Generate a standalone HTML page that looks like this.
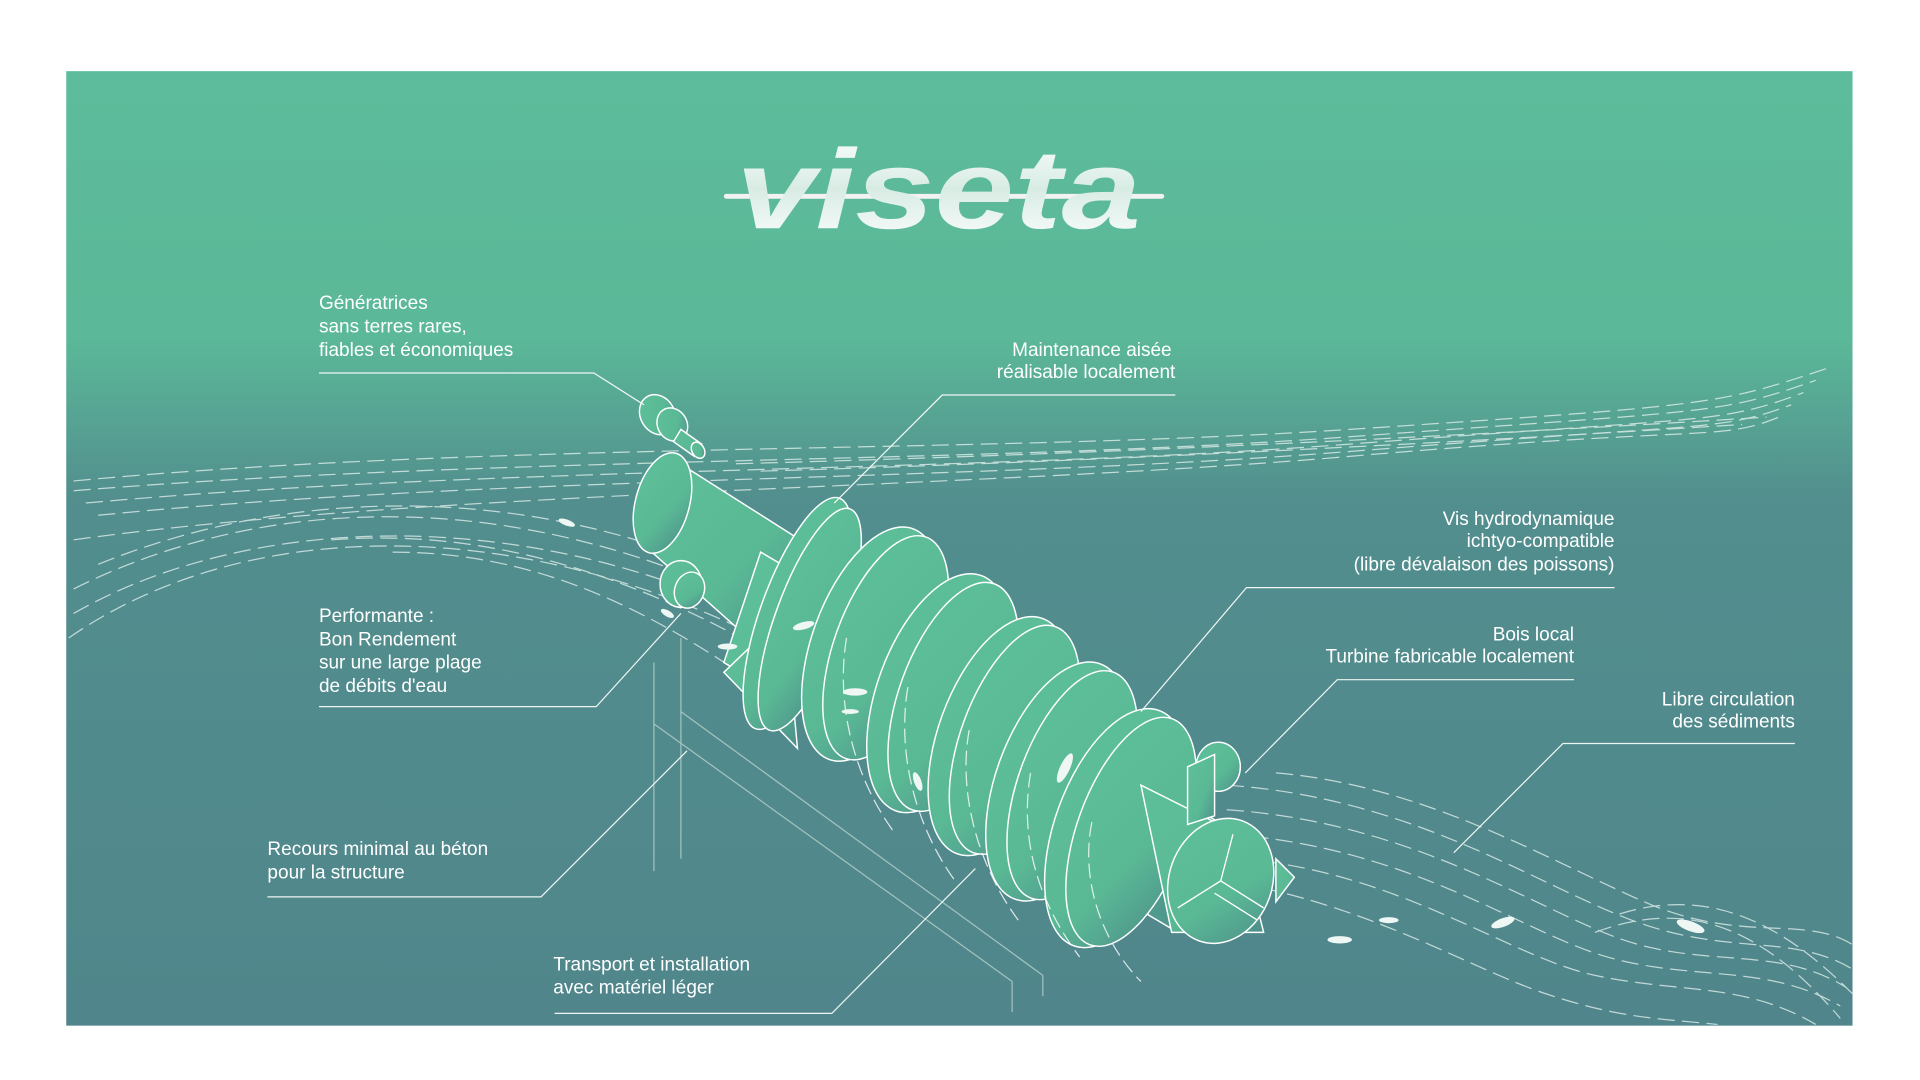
<!DOCTYPE html>
<html><head><meta charset="utf-8"><style>
html,body{margin:0;padding:0;background:#fff;width:1920px;height:1080px;overflow:hidden}
svg{display:block}
text{font-family:"Liberation Sans",sans-serif;fill:#fff}
</style></head><body>
<svg width="1920" height="1080" viewBox="0 0 1565 880.3" preserveAspectRatio="none" xmlns="http://www.w3.org/2000/svg">
<defs>
<linearGradient id="bg" x1="0" y1="0" x2="0" y2="1">
<stop offset="0" stop-color="#5cbc9b"/><stop offset="0.28" stop-color="#5bb898"/><stop offset="0.45" stop-color="#528e8e"/><stop offset="1" stop-color="#50868b"/>
</linearGradient>
<linearGradient id="gr" x1="0" y1="0" x2="1" y2="1">
<stop offset="0" stop-color="#5dc09a"/><stop offset="0.6" stop-color="#5ab995"/><stop offset="1" stop-color="#4d8f8a"/>
</linearGradient>
<linearGradient id="lg" x1="0" y1="0" x2="0" y2="1">
<stop offset="0" stop-color="#fff"/><stop offset="0.5" stop-color="#d8ece4"/><stop offset="1" stop-color="#fff"/>
</linearGradient>
</defs>
<rect x="54" y="58" width="1456" height="778" fill="url(#bg)"/>
<!-- logo -->
<line x1="592" y1="160" x2="947" y2="160" stroke="#f2f2f2" stroke-width="4" stroke-linecap="round"/>
<text x="600" y="186" font-family="DejaVu Sans" font-weight="bold" font-style="italic" font-size="92" textLength="330" lengthAdjust="spacingAndGlyphs" fill="url(#lg)" style="fill:url(#lg)">viseta</text>
<!-- flow lines -->
<g fill="none" stroke="#e8f4f0" stroke-width="1" stroke-dasharray="14 6" opacity="0.75">
<path d="M60 392 C400 360 800 370 1100 350 S1400 330 1490 300"/>
<path d="M60 400 C400 372 800 378 1100 356 S1400 338 1480 310"/>
<path d="M70 410 C400 380 800 385 1100 362 S1400 346 1470 320"/>
<path d="M80 420 C400 388 800 392 1100 368 S1400 352 1460 330"/>
<path d="M60 440 C350 400 800 398 1100 372 S1400 360 1450 340"/>
<path d="M600 378 C900 370 1200 355 1440 340"/>
<path d="M620 384 C900 376 1200 360 1420 346"/>
<path d="M56 520 C200 420 420 420 620 520"/>
<path d="M60 500 C200 420 420 410 620 505"/>
<path d="M60 480 C220 400 420 400 610 490"/>
<path d="M80 460 C240 395 430 395 600 470"/>
<path d="M270 440 C400 430 520 470 640 540"/>
<path d="M320 450 C430 450 520 490 620 560"/>
<path d="M1000 640 C1150 650 1250 720 1330 750 S1460 760 1510 790"/>
<path d="M1000 660 C1150 670 1250 740 1320 765 S1450 770 1505 805"/>
<path d="M1000 680 C1150 690 1240 760 1310 780 S1440 785 1500 820"/>
<path d="M1010 700 C1140 710 1230 780 1300 795 S1420 800 1480 835"/>
<path d="M1040 630 C1160 640 1260 700 1340 735 S1470 745 1510 770"/>
<path d="M1010 720 C1120 740 1200 790 1260 810 S1350 830 1400 835"/>
<path d="M1300 760 C1380 730 1440 760 1500 830"/>
<path d="M1320 745 C1400 720 1460 760 1510 810"/>
</g>
<!-- support structure -->
<g stroke="#b8d2cc" stroke-width="1" fill="none" opacity="0.8">
<line x1="533" y1="540" x2="533" y2="710"/><line x1="555" y1="520" x2="555" y2="700"/>
<line x1="533" y1="590" x2="825" y2="800"/><line x1="555" y1="580" x2="850" y2="795"/>
<line x1="825" y1="800" x2="825" y2="825"/><line x1="850" y1="795" x2="850" y2="812"/>
</g>
<!-- generator -->
<g stroke="#fff" stroke-width="1.2" fill="url(#gr)">
<ellipse cx="536" cy="338" rx="14" ry="17" transform="rotate(-30 536 338)"/>
<ellipse cx="548" cy="346" rx="12" ry="14" transform="rotate(-30 548 346)"/>
<path d="M555 350 L572 362 L566 372 L549 360 Z"/>
<ellipse cx="569" cy="367" rx="5" ry="7" transform="rotate(-30 569 367)"/>
<path d="M545 372 L660 445 L610 520 L520 440 Z"/>
<ellipse cx="540" cy="410" rx="22" ry="42" transform="rotate(15 540 410)"/>
<ellipse cx="555" cy="476" rx="17" ry="19"/>
<ellipse cx="562" cy="481" rx="12" ry="15" transform="rotate(20 562 481)"/>
<path d="M620 450 L1010 680 L960 760 L590 540 Z"/>
<path d="M590 548 L640 500 L650 610 Z"/>
</g>
<!-- flights -->
<g stroke="#fff" stroke-width="1.2" fill="url(#gr)">
<ellipse cx="650" cy="500" rx="30" ry="100" transform="rotate(20 650 500)"/>
<ellipse cx="660" cy="505" rx="28" ry="96" transform="rotate(20 660 505)"/>
<ellipse cx="710" cy="525" rx="48" ry="100" transform="rotate(20 710 525)"/>
<ellipse cx="722" cy="528" rx="42" ry="96" transform="rotate(20 722 528)"/>
<ellipse cx="765" cy="565" rx="50" ry="102" transform="rotate(20 765 565)"/>
<ellipse cx="777" cy="568" rx="44" ry="98" transform="rotate(20 777 568)"/>
<ellipse cx="815" cy="600" rx="50" ry="102" transform="rotate(20 815 600)"/>
<ellipse cx="827" cy="603" rx="44" ry="98" transform="rotate(20 827 603)"/>
<ellipse cx="862" cy="637" rx="50" ry="102" transform="rotate(20 862 637)"/>
<ellipse cx="874" cy="640" rx="44" ry="98" transform="rotate(20 874 640)"/>
<ellipse cx="910" cy="675" rx="50" ry="102" transform="rotate(20 910 675)"/>
<ellipse cx="922" cy="678" rx="44" ry="98" transform="rotate(20 922 678)"/>
<path d="M930 640 L1010 680 L1030 760 L955 760 Z"/>
<ellipse cx="995" cy="718" rx="42" ry="52" transform="rotate(20 995 718)"/>
<ellipse cx="993" cy="625" rx="18" ry="20"/>
<path d="M968 625 L990 615 L990 665 L968 672 Z"/>
<path d="M1040 700 L1055 715 L1040 735 Z"/>
</g>
<g stroke="#fff" stroke-width="1.1" fill="none">
<path d="M995 718 L1005 680 M995 718 L960 740 M995 718 L1030 740"/>
<line x1="990" y1="728" x2="1025" y2="750"/>
</g>
<g fill="none" stroke="#fff" stroke-width="1" stroke-dasharray="12 5" opacity="0.8">
<path d="M690 520 C680 580 700 640 730 680"/><path d="M740 560 C730 620 750 680 780 720"/>
<path d="M790 595 C780 650 800 710 830 750"/><path d="M840 630 C830 690 850 740 880 780"/>
<path d="M890 670 C880 720 900 770 930 800"/>
</g>
<!-- fish -->
<g fill="#eef7f4">
<ellipse cx="462" cy="426" rx="7" ry="2.5" transform="rotate(20 462 426)"/>
<ellipse cx="544" cy="500" rx="6" ry="2.5" transform="rotate(30 544 500)"/>
<ellipse cx="593" cy="527" rx="8" ry="2.5"/>
<ellipse cx="655" cy="510" rx="9" ry="3" transform="rotate(-15 655 510)"/>
<ellipse cx="697" cy="564" rx="10" ry="3"/>
<ellipse cx="693" cy="580" rx="7" ry="2"/>
<ellipse cx="748" cy="637" rx="3" ry="8" transform="rotate(-20 748 637)"/>
<ellipse cx="868" cy="626" rx="4" ry="13" transform="rotate(25 868 626)"/>
<ellipse cx="1092" cy="766" rx="10" ry="3"/>
<ellipse cx="1132" cy="750" rx="8" ry="2.5"/>
<ellipse cx="1225" cy="752" rx="10" ry="3.5" transform="rotate(-20 1225 752)"/>
<ellipse cx="1378" cy="755" rx="12" ry="4" transform="rotate(20 1378 755)"/>
</g>
<!-- leader lines -->
<g stroke="#eef6f3" stroke-width="1" fill="none">
<polyline points="260,304 484,304 525,330"/>
<polyline points="958,322 768,322 680,410"/>
<polyline points="1316,479 1016,479 930,580"/>
<polyline points="1283,554 1090,554 1015,630"/>
<polyline points="1463,606 1274,606 1185,695"/>
<polyline points="260,576 486,576 555,500"/>
<polyline points="218,731 441,731 560,612"/>
<polyline points="452,826 678,826 795,708"/>
</g>
<!-- labels -->
<g font-size="15.5">
<text x="260" y="252">Génératrices</text>
<text x="260" y="271">sans terres rares,</text>
<text x="260" y="290">fiables et économiques</text>
<g text-anchor="end">
<text x="955" y="290">Maintenance aisée</text>
<text x="958" y="308">réalisable localement</text>
<text x="1316" y="428">Vis hydrodynamique</text>
<text x="1316" y="446">ichtyo-compatible</text>
<text x="1316" y="465">(libre dévalaison des poissons)</text>
<text x="1283" y="522">Bois local</text>
<text x="1283" y="540">Turbine fabricable localement</text>
<text x="1463" y="575">Libre circulation</text>
<text x="1463" y="593">des sédiments</text>
</g>
<text x="260" y="507">Performante :</text>
<text x="260" y="526">Bon Rendement</text>
<text x="260" y="545">sur une large plage</text>
<text x="260" y="564">de débits d'eau</text>
<text x="218" y="697">Recours minimal au béton</text>
<text x="218" y="716">pour la structure</text>
<text x="451" y="791">Transport et installation</text>
<text x="451" y="810">avec matériel léger</text>
</g>
</svg>
</body></html>
